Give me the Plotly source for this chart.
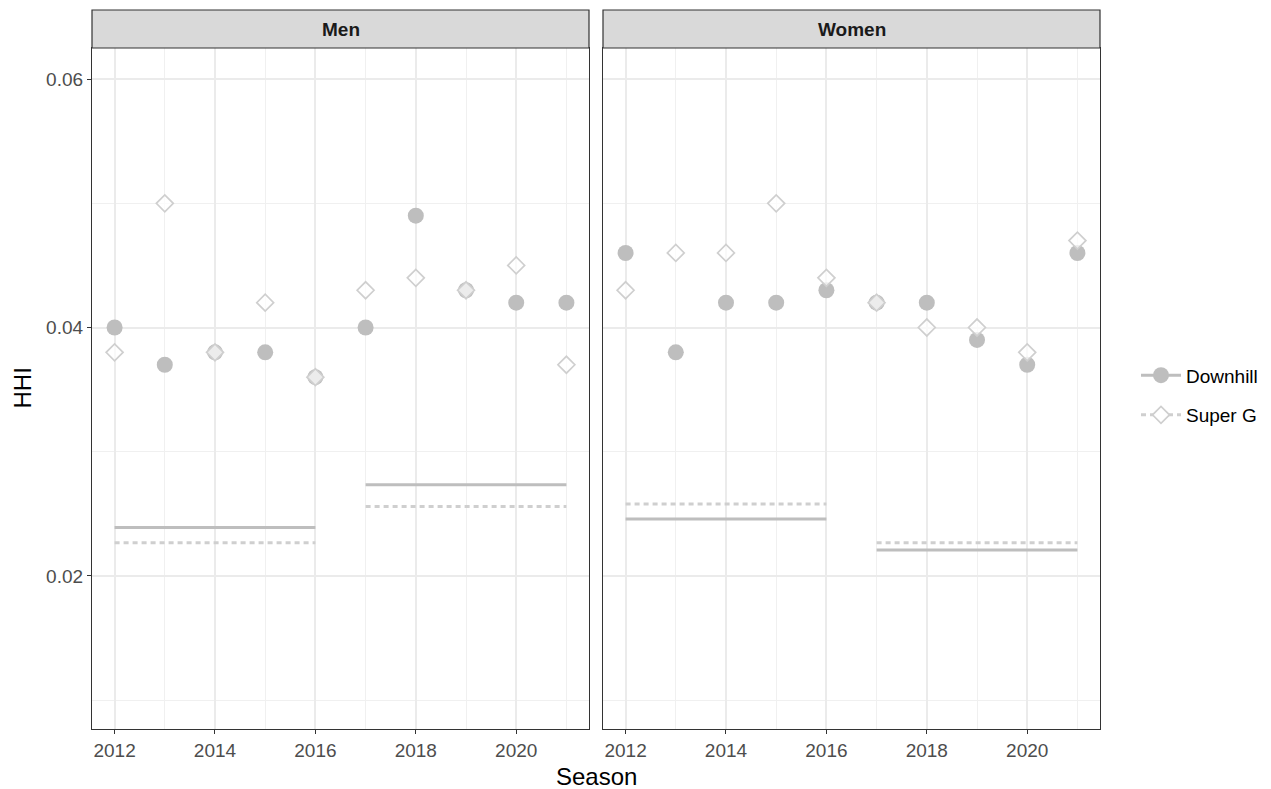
import plotly.graph_objects as go
from plotly.subplots import make_subplots

seasons = [2012, 2013, 2014, 2015, 2016, 2017, 2018, 2019, 2020, 2021]
panels = ["Men", "Women"]

men_downhill = [0.040, 0.037, 0.038, 0.038, 0.036, 0.040, 0.049, 0.043, 0.042, 0.042]
men_superg = [0.038, 0.050, 0.038, 0.042, 0.036, 0.043, 0.044, 0.043, 0.045, 0.037]
women_downhill = [0.046, 0.038, 0.042, 0.042, 0.043, 0.042, 0.042, 0.039, 0.037, 0.046]
women_superg = [0.043, 0.046, 0.046, 0.050, 0.044, 0.042, 0.040, 0.040, 0.038, 0.047]

period_starts = [2012, 2017]
period_ends = [2016, 2021]
men_downhill_mean = [0.0239, 0.02735]
men_superg_mean = [0.02268, 0.0256]
women_downhill_mean = [0.02459, 0.02209]
women_superg_mean = [0.0258, 0.02268]

DH_COL = "#BEBEBE"
SG_COL = "#CFCFCF"
FONT = "Liberation Sans, Arial, sans-serif"

W, H = 1263, 781
ML, MR, MT, MB = 84, 171, 40, 60
PW = W - ML - MR
PH = H - MT - MB

fig = make_subplots(rows=1, cols=2, shared_yaxes=True, horizontal_spacing=14 / PW)

data = [
    (men_downhill, men_superg, men_downhill_mean, men_superg_mean),
    (women_downhill, women_superg, women_downhill_mean, women_superg_mean),
]

for c, (dh, sg, dhm, sgm) in enumerate(data, start=1):
    for s, e, m in zip(period_starts, period_ends, dhm):
        fig.add_trace(go.Scatter(x=[s, e], y=[m, m], mode="lines",
                                 line=dict(color=DH_COL, width=3), showlegend=False,
                                 hoverinfo="skip"), row=1, col=c)
    for s, e, m in zip(period_starts, period_ends, sgm):
        fig.add_trace(go.Scatter(x=[s, e], y=[m, m], mode="lines",
                                 line=dict(color=SG_COL, width=3, dash="5px,4px"),
                                 showlegend=False, hoverinfo="skip"), row=1, col=c)
    fig.add_trace(go.Scatter(x=seasons, y=dh, mode="markers",
                             marker=dict(symbol="circle", size=16, color=DH_COL),
                             showlegend=False), row=1, col=c)
    fig.add_trace(go.Scatter(x=seasons, y=sg, mode="markers",
                             marker=dict(symbol="diamond", size=13,
                                         color="rgba(255,255,255,0.7)",
                                         line=dict(color=SG_COL, width=1.7)),
                             showlegend=False), row=1, col=c)

# legend entries
fig.add_trace(go.Scatter(x=[None], y=[None], mode="lines+markers", name="Downhill",
                         legendgroup="dh",
                         line=dict(color=DH_COL, width=3),
                         marker=dict(symbol="circle", size=16, color=DH_COL)), row=1, col=1)
fig.add_trace(go.Scatter(x=[None], y=[None], mode="lines+markers", name="Super G",
                         legendgroup="sg",
                         line=dict(color=SG_COL, width=3, dash="5px,4px"),
                         marker=dict(symbol="diamond", size=13, color="white",
                                     line=dict(color=SG_COL, width=1.7))), row=1, col=1)

xa = dict(range=[2011.55, 2021.45], tick0=2012, dtick=2, showgrid=True,
          gridcolor="#EBEBEB", gridwidth=1.7, zeroline=False,
          showline=True, mirror=True, linecolor="#333333", linewidth=1.2,
          ticks="outside", ticklen=4, tickcolor="#333333", tickwidth=1.2,
          tickfont=dict(family=FONT, size=19, color="#4D4D4D"),
          minor=dict(dtick=1, tick0=2012, showgrid=True, gridcolor="#F0F0F0", gridwidth=0.9, ticks=""))
ya = dict(range=[0.00768, 0.0625], tick0=0.02, dtick=0.02, showgrid=True,
          gridcolor="#EBEBEB", gridwidth=1.7, zeroline=False,
          showline=True, mirror=True, linecolor="#333333", linewidth=1.2,
          ticks="outside", ticklen=4, tickcolor="#333333", tickwidth=1.2,
          tickformat=".2f",
          tickfont=dict(family=FONT, size=19, color="#4D4D4D"),
          minor=dict(dtick=0.01, tick0=0.01, showgrid=True, gridcolor="#F0F0F0", gridwidth=0.9, ticks=""))

fig.update_xaxes(**xa)
fig.update_yaxes(**ya)
fig.update_yaxes(showticklabels=False, ticks="", row=1, col=2)

# strips
doms = [fig.layout.xaxis.domain, fig.layout.xaxis2.domain]
strip_h = 38 / PH
for d, name in zip(doms, panels):
    fig.add_shape(type="rect", xref="paper", yref="paper", x0=d[0], x1=d[1], y0=1, y1=1 + strip_h,
                  fillcolor="#D9D9D9", line=dict(color="#333333", width=1.2), layer="above")
    fig.add_annotation(xref="paper", yref="paper", x=(d[0] + d[1]) / 2, y=1 + strip_h / 2,
                       xanchor="center", yanchor="middle",
                       text="<b>%s</b>" % name, showarrow=False,
                       font=dict(family=FONT, size=19, color="#1A1A1A"))

fig.add_annotation(xref="paper", yref="paper", x=0.5, y=-47 / PH, yanchor="middle",
                   text="Season", showarrow=False, font=dict(family=FONT, size=24, color="black"))
fig.add_annotation(xref="paper", yref="paper", x=(14 - ML) / PW, y=0.5, xanchor="center",
                   yanchor="middle", textangle=-90,
                   text="HHI", showarrow=False, font=dict(family=FONT, size=24, color="black"))

fig.update_layout(
    width=W, height=H,
    margin=dict(l=ML, r=MR, t=MT, b=MB, autoexpand=False),
    plot_bgcolor="white", paper_bgcolor="white",
    font=dict(family=FONT),
    legend=dict(x=(1128 - ML) / PW, y=0.49, xanchor="left", yanchor="middle",
                font=dict(family=FONT, size=19, color="black"),
                itemwidth=40, tracegroupgap=12, bgcolor="rgba(0,0,0,0)"),
)

fig.write_html("out.html")
